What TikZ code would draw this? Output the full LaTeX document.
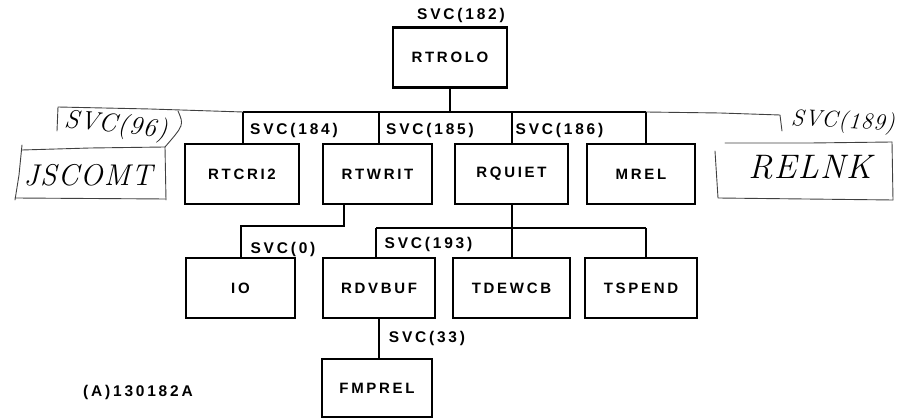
\documentclass[tikz,border=0pt]{standalone}
\usepackage{fontspec}
\setmainfont{Liberation Sans}[LetterSpace=18]
\newfontfamily\handfont{Latin Modern Roman}[LetterSpace=4]
\usepackage{tikz}
\usetikzlibrary{positioning}

\begin{document}
\begin{tikzpicture}[
    x=1pt, y=-1pt,
    box/.style={rectangle, draw, line width=2.8pt, minimum height=60pt,
        inner sep=0pt, font=\fontsize{15}{17}\selectfont\bfseries},
    svc/.style={inner sep=0pt, font=\fontsize{15.5}{18}\selectfont\bfseries},
    link/.style={line width=2pt},
    hand/.style={line width=0.9pt, black!75, line cap=round, line join=round},
    scrawl/.style={inner sep=0pt, font=\fontsize{26}{28}\selectfont\handfont\itshape}
]
    \useasboundingbox (0,0) rectangle (903,419);

    % Top
    \node[box, minimum width=114pt] (rtrolo) at (450,57.5) {RTROLO};
    \node[svc] (svc182) at (461,15) {SVC(182)};

    % Row 1
    \node[box, minimum width=114pt] (rtcri2) at (242,174) {RTCRI2};
    \node[box, minimum width=109pt] (rtwrit) at (377.5,174) {RTWRIT};
    \node[box, minimum width=113pt] (rquiet) at (511.5,174) {RQUIET};
    \node[box, minimum width=108pt] (mrel) at (641,174) {MREL};

    % Row 2
    \node[box, minimum width=109pt] (io) at (240.5,288) {IO};
    \node[box, minimum width=112pt] (rdvbuf) at (379,288) {RDVBUF};
    \node[box, minimum width=117pt] (tdewcb) at (511.5,288) {TDEWCB};
    \node[box, minimum width=112pt] (tspend) at (641,288) {TSPEND};

    % Row 3
    \node[box, minimum width=110pt, minimum height=58pt] (fmprel) at (377,388) {FMPREL};

    % SVC labels
    \node[svc] (svc184) at (294,130) {SVC(184)};
    \node[svc] (svc185) at (430,130) {SVC(185)};
    \node[svc] (svc186) at (559.5,130) {SVC(186)};
    \node[svc] (svc0) at (283,249) {SVC(0)};
    \node[svc] (svc193) at (428.5,244) {SVC(193)};
    \node[svc] (svc33) at (427,338) {SVC(33)};
    \node[svc] (figid) at (138,392) {(A)130182A};

    % Connectors
    \coordinate (busA) at (243,112);
    \coordinate (busW) at (379,112);
    \coordinate (busB) at (646,112);
    \coordinate (wr) at (344,226);
    \coordinate (busC) at (376,228);
    \coordinate (busD) at (646,228);

    \draw[link] (rtrolo.south) -- (rtrolo.south |- busA);
    \draw[link] (busA) -- (busB);
    \draw[link] (busA) -- (busA |- rtcri2.north);
    \draw[link] (busW) -- (busW |- rtwrit.north);
    \draw[link] (rquiet.north) -- (rquiet.north |- busA);
    \draw[link] (busB) -- (busB |- mrel.north);

    \draw[link] (wr |- rtwrit.south) -- (wr) -| (io.north);
    \draw[link] (rquiet.south) -- (rquiet.south |- busC);
    \draw[link] (busC) -- (busD);
    \draw[link] (busC) -- (busC |- rdvbuf.north);
    \draw[link] (tdewcb.north) -- (tdewcb.north |- busC);
    \draw[link] (busD) -- (busD |- tspend.north);
    \draw[link] (rdvbuf.south) -- (rdvbuf.south |- fmprel.north);

    % Handwritten notes, left
    \node[scrawl, rotate=-6] (svc96) at (116,126) {SVC(96)};
    \node[scrawl, font=\fontsize{30}{32}\selectfont\handfont\itshape] (jscomt) at (88,175) {JSCOMT};
    \draw[hand] (busA) -- (150,109) -- (58,107) -- (57,131);
    \draw[hand] (178,111) .. controls (184,125) .. (165,147);
    \draw[hand] (22,150) -- (90,148) -- (165,147);
    \draw[hand] (22,145) -- (19,175) -- (15,200);
    \draw[hand] (165,147) -- (166,200);
    \draw[hand] (15,198) -- (166,199);

    % Handwritten notes, right
    \node[scrawl, font=\fontsize{23}{25}\selectfont\handfont\itshape, rotate=-3] (svc189) at (843,122) {SVC(189)};
    \node[scrawl, font=\fontsize{34}{36}\selectfont\handfont\itshape] (relnk) at (810,167) {RELNK};
    \draw[hand] (busB) -- (720,113) -- (780,115) -- (782,131);
    \draw[hand] (725,143) -- (810,143) -- (892,142);
    \draw[hand] (892,142) -- (893,200);
    \draw[hand] (715,151) -- (718,198) -- (893,200);
\end{tikzpicture}
\end{document}
